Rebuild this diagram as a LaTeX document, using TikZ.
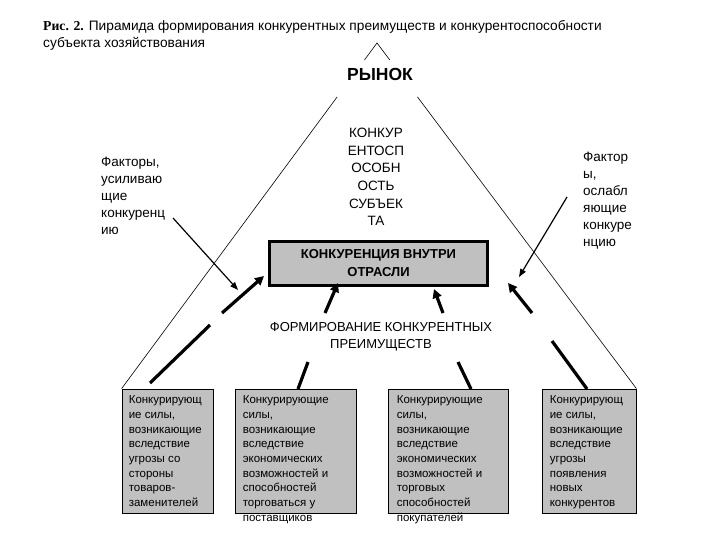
\documentclass[tikz,border=0pt]{standalone}
\usepackage{fontspec}
\setmainfont{Liberation Sans}
\newfontfamily\capfont{Liberation Serif}
\usetikzlibrary{calc,arrows.meta}
\definecolor{boxgray}{RGB}{192,192,192}

\begin{document}
\begin{tikzpicture}[x=1pt, y=-1pt, every node/.style={inner sep=0pt},
    sidetext/.style={align=left, font=\fontsize{13.5}{17}\selectfont},
    midtext/.style={align=center, font=\fontsize{13.5}{17.6}\selectfont},
    forcebox/.style={draw, fill=boxgray, line width=0.8pt, minimum width=#1, minimum height=124pt},
    forcetext/.style={anchor=north west, align=left, font=\fontsize{11.5}{14.7}\selectfont},
    thinarrow/.style={line width=1.2pt, -{Triangle[length=8pt,width=6pt]}},
    thickarrow/.style={line width=3.2pt, -{Triangle[length=9pt,width=9pt]}},
    thickline/.style={line width=3.2pt}]
  \useasboundingbox (0,0) rectangle (720,540);

  \node[anchor=north west, align=left, font=\fontsize{13.7}{16.8}\selectfont] (title) at (43,20)
    {{\capfont\bfseries Рис. 2.} Пирамида формирования конкурентных преимуществ и конкурентоспособности\\
     субъекта хозяйствования};

  \node[font=\fontsize{17.5}{20}\selectfont\bfseries] (market) at (380,74) {РЫНОК};
  \node[midtext] (subject) at (376,177) {КОНКУР\\ЕНТОСП\\ОСОБН\\ОСТЬ\\СУБЪЕК\\ТА};
  \node[draw, fill=boxgray, line width=3pt, minimum width=218pt, minimum height=44pt,
        align=center, font=\fontsize{13}{18}\selectfont\bfseries] (inside) at (378.5,263.5)
    {КОНКУРЕНЦИЯ ВНУТРИ\\ОТРАСЛИ};
  \node[midtext, font=\fontsize{13}{17}\selectfont] (forming) at (381,337)
    {ФОРМИРОВАНИЕ КОНКУРЕНТНЫХ\\ПРЕИМУЩЕСТВ};

  \node[sidetext, anchor=north west] (plus) at (101,157) {Факторы,\\усиливаю\\щие\\конкуренц\\ию};
  \node[sidetext, anchor=north west] (minus) at (583,152) {Фактор\\ы,\\ослабл\\яющие\\конкуре\\нцию};

  \node[forcebox=91pt] (b1) at (167.5,451) {};
  \node[forcebox=121pt] (b2) at (295.5,451) {};
  \node[forcebox=120pt] (b3) at (448,451) {};
  \node[forcebox=94pt] (b4) at (589,451) {};

  \node[forcetext] (t1) at ($(b1.north west)+(7,7)$)
    {Конкурирующ\\ие силы,\\возникающие\\вследствие\\угрозы со\\стороны\\товаров-\\заменителей};
  \node[forcetext] (t2) at ($(b2.north west)+(8,7)$)
    {Конкурирующие\\силы,\\возникающие\\вследствие\\экономических\\возможностей и\\способностей\\торговаться у\\поставщиков};
  \node[forcetext] (t3) at ($(b3.north west)+(9,7)$)
    {Конкурирующие\\силы,\\возникающие\\вследствие\\экономических\\возможностей и\\торговых\\способностей\\покупателей};
  \node[forcetext] (t4) at ($(b4.north west)+(8,7)$)
    {Конкурирующ\\ие силы,\\возникающие\\вследствие\\угрозы\\появления\\новых\\конкурентов};

  \coordinate (apex) at (377,43);
  \draw[line width=0.6pt] ($(apex)!0.049!(b1.north west)$) -- (apex) -- ($(apex)!0.049!(b4.north east)$);
  \draw[line width=0.6pt] ($(apex)!0.156!(b1.north west)$) -- (b1.north west);
  \draw[line width=0.6pt] ($(apex)!0.156!(b4.north east)$) -- (b4.north east);

  \coordinate (pl1) at (173,218);
  \coordinate (pl2) at (238,290);
  \coordinate (mi1) at (567,197);
  \coordinate (mi2) at (519,277);
  \draw[thinarrow] (pl1) -- (pl2);
  \draw[thinarrow] (mi1) -- (mi2);

  \coordinate (a1) at (222,313);
  \coordinate (a2) at (325,313);
  \coordinate (a3) at (443,313);
  \coordinate (a4) at (532,313);
  \draw[thickarrow] (a1) -- (264,276);
  \draw[thickarrow] (a2) -- (338,283);
  \draw[thickarrow] (a3) -- (434,289);
  \draw[thickarrow] (a4) -- (508,283);

  \draw[thickline] (150,383) -- (210,325);
  \draw[thickline] (298,389) -- (308,362);
  \draw[thickline] (471,389) -- (458,362);
  \draw[thickline] (587,389) -- (552,341);
\end{tikzpicture}
\end{document}
